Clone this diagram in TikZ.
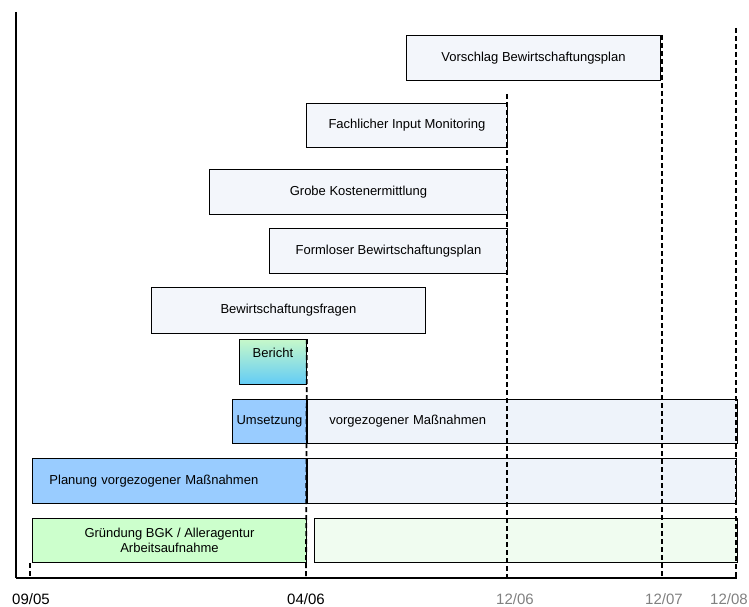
\documentclass[tikz,border=0pt]{standalone}
\usepackage{fontspec}
\setmainfont{Liberation Sans}
\usetikzlibrary{positioning}

\definecolor{barface}{HTML}{F3F6FB}
\definecolor{planblue}{HTML}{99CCFF}
\definecolor{paleblue}{HTML}{EEF3FA}
\definecolor{foundgreen}{HTML}{CCFFCC}
\definecolor{palegreen}{HTML}{F0FCF0}
\definecolor{reportgreen}{HTML}{C6F8CA}
\definecolor{reportblue}{HTML}{62CCF6}
\definecolor{dategray}{HTML}{808080}

\begin{document}
\begin{tikzpicture}[x=1pt, y=-1pt,
  every node/.style={font=\fontsize{13}{14.5}\selectfont},
  bar/.style={draw, line width=0.9pt, fill=barface, anchor=north west,
    inner sep=0pt, align=center},
  milestone/.style={line width=1.8pt, dash pattern=on 5pt off 3pt},
  date/.style={font=\fontsize{15}{16}\selectfont, anchor=base, inner sep=0pt}]

  \useasboundingbox (0,0) rectangle (749,607);

  % time bars, top to bottom
  \node[bar, minimum width=254, minimum height=45] (vorschlag) at (406,35) {Vorschlag Bewirtschaftungsplan};
  \node[bar, minimum width=201, minimum height=44] (input) at (306,103) {Fachlicher Input Monitoring};
  \node[bar, minimum width=298, minimum height=45] (kosten) at (209,169) {Grobe Kostenermittlung};
  \node[bar, minimum width=238, minimum height=45] (formlos) at (269,228) {Formloser Bewirtschaftungsplan};
  \node[bar, minimum width=274, minimum height=46] (fragen) at (151,287) {Bewirtschaftungsfragen};
  \node[bar, top color=reportgreen, bottom color=reportblue, minimum width=67,
    inner ysep=9.5pt, text height=9pt, text depth=17pt] (bericht) at (239,339) {Bericht};
  \node[bar, fill=planblue, minimum width=74, minimum height=44] (umsetzung) at (232,399) {Umsetzung};
  \node[bar, fill=paleblue, minimum height=44, text width=386, inner xsep=22pt,
    align=left, right=0pt of umsetzung] (umsetzrest) {vorgezogener Maßnahmen};
  \node[bar, fill=planblue, minimum height=45, text width=240, inner xsep=17pt,
    align=left] (planung) at (32,458) {Planung vorgezogener Maßnahmen};
  \node[bar, fill=paleblue, minimum width=429, minimum height=45,
    right=0pt of planung] (planrest) {};
  \node[bar, fill=foundgreen, minimum width=274, minimum height=44] (gruendung) at (32,518)
    {Gründung BGK / Alleragentur\\Arbeitsaufnahme};
  \node[bar, fill=palegreen, minimum width=423, minimum height=44,
    right=7pt of gruendung] (gruendrest) {};

  % axes
  \coordinate (axtop) at (16,12);
  \coordinate (origin) at (16,578);
  \coordinate (axend) at (737,578);
  \draw[line width=2.6pt] (axtop) -- (origin);
  \draw[line width=2pt] (origin) -- (axend);

  % milestones
  \coordinate (t0905) at (30,578);
  \coordinate (t0406) at (306,578);
  \coordinate (t1206) at (507,578);
  \coordinate (t1207) at (662,578);
  \coordinate (t1208) at (736,578);
  \draw[milestone] (30,563) -- (t0905);
  \draw[milestone] (bericht.north east) -- (t0406);
  \draw[milestone] (507,94) -- (t1206);
  \draw[milestone] (662,35) -- (t1207);
  \draw[milestone] (736,28) -- (t1208);

  % dates
  \node[date] (d0905) at (31,604) {09/05};
  \node[date] (d0406) at (306,604) {04/06};
  \node[date, text=dategray] (d1206) at (515,604) {12/06};
  \node[date, text=dategray] (d1207) at (664,604) {12/07};
  \node[date, text=dategray] (d1208) at (729,604) {12/08};
\end{tikzpicture}
\end{document}
